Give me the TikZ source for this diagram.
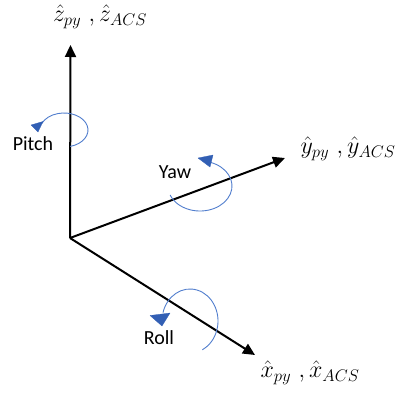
\RequirePackage{fix-cm}
\documentclass[tikz,border=0pt]{standalone}
\usepackage{fontspec}
\usetikzlibrary{arrows.meta}
\newfontfamily\labfont{Carlito}
\definecolor{arcblue}{RGB}{80,125,205}
\definecolor{tipblue}{RGB}{50,95,180}
\tikzset{
  axis/.style={line width=2pt,-{Triangle[length=12pt,width=11pt]}},
  rot/.style={draw=arcblue,line width=0.9pt},
  rottip/.style={fill=tipblue,draw=tipblue,line width=0.3pt,line join=round},
  lab/.style={font=\labfont\fontsize{20}{24}\selectfont,inner sep=0pt},
  axlab/.style={font=\fontsize{24}{28}\selectfont,inner sep=0pt}
}
\begin{document}
\begin{tikzpicture}[x=1pt,y=-1pt]
\useasboundingbox (0,0) rectangle (401,394);
\coordinate (O) at (70,238);
\coordinate (Z) at (70.5,45);
\coordinate (Y) at (285,158);
\coordinate (X) at (255,355);
\draw[axis] (O) -- (Z);
\draw[axis] (O) -- (Y);
\draw[axis] (O) -- (X);
\node[axlab] (zl) at (100,17) {$\hat{z}_{py}\ ,\hat{z}_{ACS}$};
\node[axlab] (yl) at (348,149) {$\hat{y}_{py}\ ,\hat{y}_{ACS}$};
\node[axlab] (xl) at (310,373) {$\hat{x}_{py}\ ,\hat{x}_{ACS}$};
\node[lab] (pitch) at (33,144) {Pitch};
\node[lab] (yaw) at (175,172) {Yaw};
\node[lab] (roll) at (159,338) {Roll};
% pitch rotation
\draw[rot] (64,130) ++(75:24 and 17) arc[start angle=75,end angle=-157,x radius=24,y radius=17];
\fill[rottip] (31,125) -- (43,121.5) -- (38,132) -- cycle;
% yaw rotation
\draw[rot] (200,186) ++(-71:32 and 25) arc[start angle=-71,end angle=159,x radius=32,y radius=25];
\fill[rottip] (198,158) -- (213,155) -- (210,167) -- cycle;
% roll rotation
\draw[rot] (190,321) ++(195:28 and 32) arc[start angle=195,end angle=424,x radius=28,y radius=32];
\fill[rottip] (150,315.5) -- (170,313) -- (162,326) -- cycle;
\end{tikzpicture}
\end{document}
